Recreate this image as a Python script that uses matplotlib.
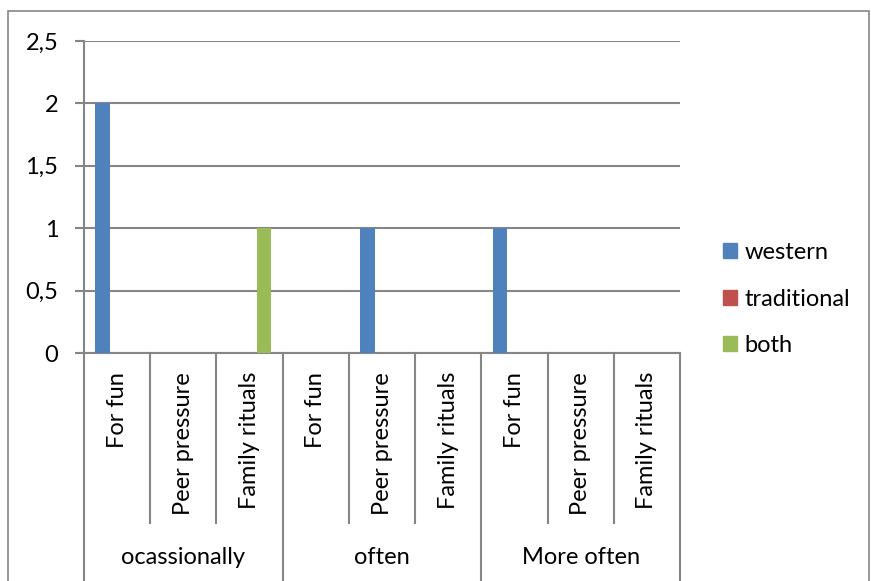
import numpy as np
import matplotlib.pyplot as plt
from matplotlib.patches import Rectangle, Patch
from matplotlib.transforms import blended_transform_factory

plt.rcParams['font.family'] = ['Lato', 'DejaVu Sans']

groups = ['ocassionally', 'often', 'More often']
reasons = ['For fun', 'Peer pressure', 'Family rituals']
series = ['western', 'traditional', 'both']
western = [2, 0, 0, 0, 1, 0, 1, 0, 0]
traditional = [0, 0, 0, 0, 0, 0, 0, 0, 0]
both = [0, 0, 1, 0, 0, 0, 0, 0, 0]
colors = ['#4F81BD', '#C0504D', '#9BBB59']
yticks = [0, 0.5, 1, 1.5, 2, 2.5]
ytick_labels = ['0', '0,5', '1', '1,5', '2', '2,5']

W, H = 871, 581
fs = 17
fig = plt.figure(figsize=(W / 100, H / 100), dpi=100)
# plot area in pixels
x0, x1, y_top, y_bot = 84, 680, 41, 353
ax = fig.add_axes([x0 / W, 1 - y_bot / H, (x1 - x0) / W, (y_bot - y_top) / H])

grid_col = '#868686'
n = len(western)
x = np.arange(n)
bw = 0.22
for i, vals in enumerate([western, traditional, both]):
    ax.bar(x + (i - 1) * bw, vals, width=bw, color=colors[i], label=series[i], zorder=3)

ax.set_xlim(-0.5, n - 0.5)
ax.set_ylim(0, 2.5)
ax.set_yticks(yticks)
ax.set_yticklabels(ytick_labels, fontsize=fs)
ax.tick_params(axis='y', length=6.5, width=1.5, color=grid_col, pad=12)
ax.set_xticks([])
ax.grid(axis='y', color=grid_col, linewidth=1.5, zorder=0)
for s in ['top', 'right']:
    ax.spines[s].set_visible(False)
ax.spines['left'].set_color(grid_col)
ax.spines['left'].set_linewidth(1.5)
ax.spines['bottom'].set_color(grid_col)
ax.spines['bottom'].set_linewidth(1.5)

ax_h = y_bot - y_top
trans = blended_transform_factory(ax.transData, ax.transAxes)
# category separators
for b in range(n + 1):
    xb = b - 0.5
    depth = (H - y_bot) if b % 3 == 0 else 170
    ax.plot([xb, xb], [0, -depth / ax_h], transform=trans, color=grid_col,
            linewidth=1.5, clip_on=False)

labels = reasons * len(groups)
for i, lab in enumerate(labels):
    ax.text(i, -19 / ax_h, lab, transform=trans, rotation=90, ha='center', va='top',
            fontsize=fs)
for g, name in enumerate(groups):
    ax.text(g * 3 + 1, -204 / ax_h, name, transform=trans, ha='center', va='center',
            fontsize=fs)

handles = [Patch(color=c) for c in colors]
fig.legend(handles, series, loc='center left', bbox_to_anchor=(711 / W, 1 - 299 / H),
           frameon=False, fontsize=fs, handlelength=0.62, handleheight=0.62,
           handletextpad=0.3, labelspacing=1.08, borderpad=0)

# outer chart border
fig.patches.append(Rectangle((8 / W, -0.05), (869 - 8) / W, 1.05 - 11 / H,
                             transform=fig.transFigure, fill=False,
                             edgecolor=grid_col, linewidth=1.2))

fig.savefig('out.png', dpi=100)
